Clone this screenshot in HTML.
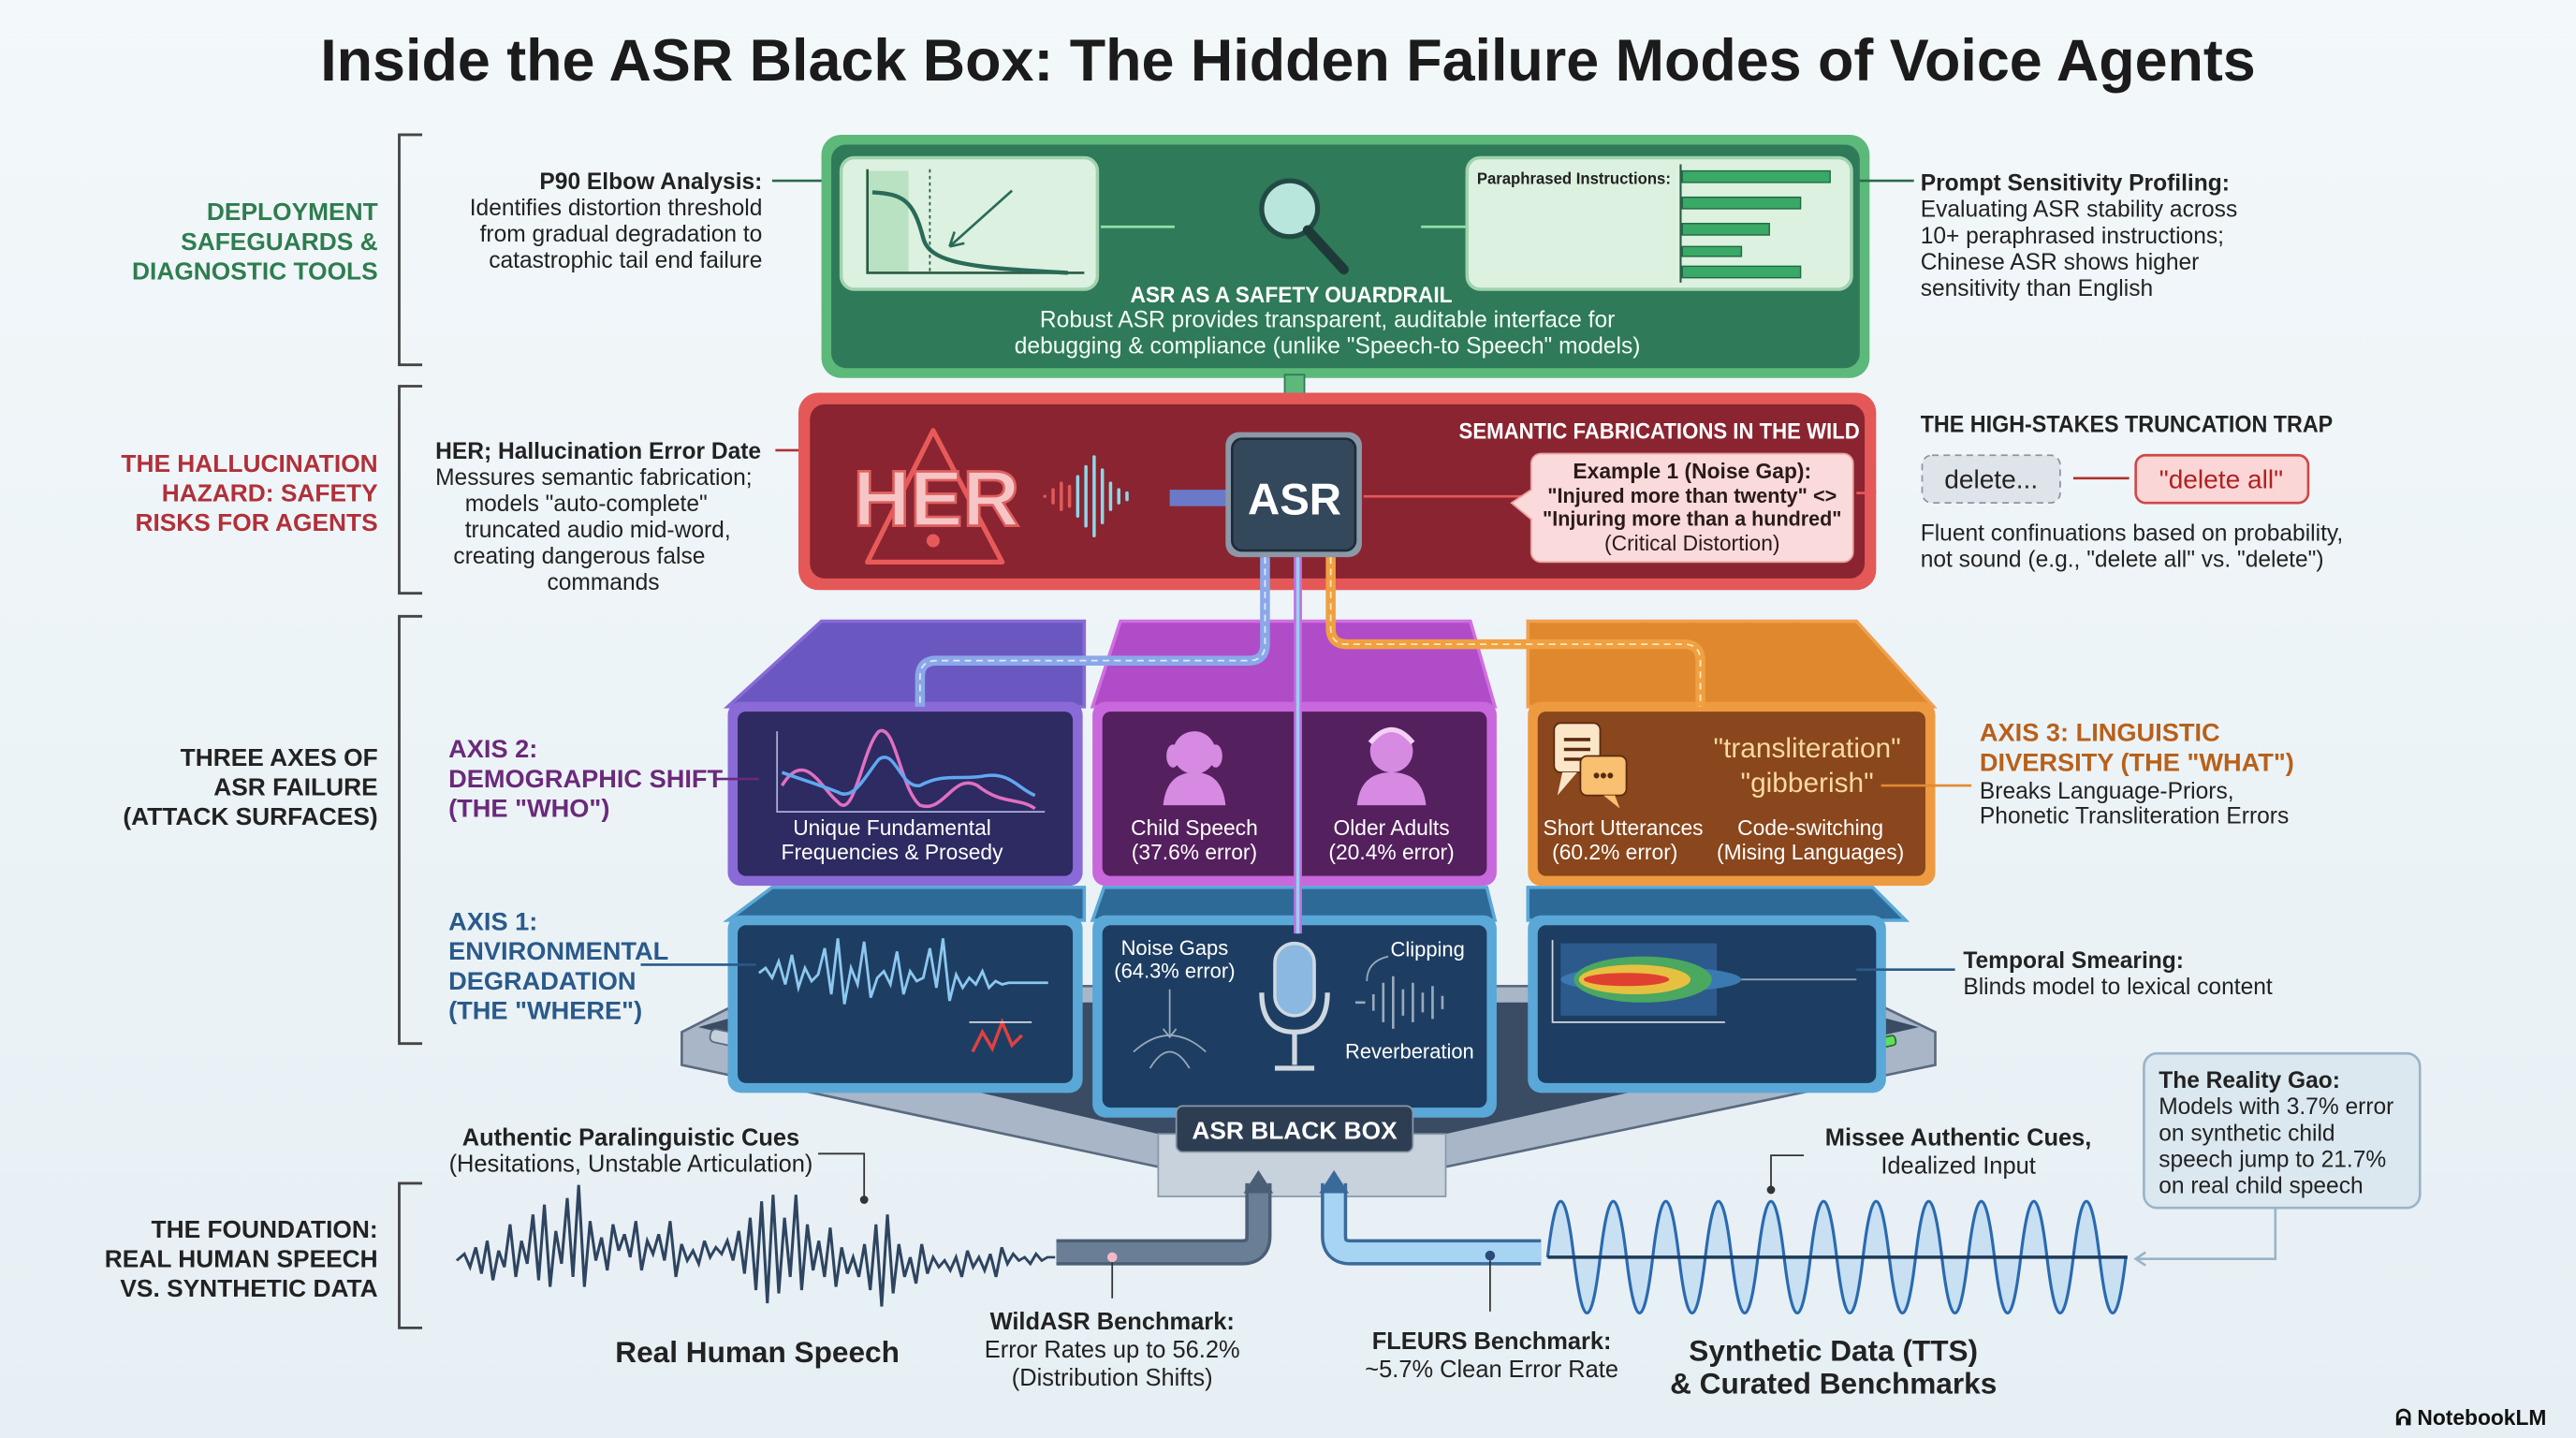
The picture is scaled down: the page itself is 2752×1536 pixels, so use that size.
<!DOCTYPE html>
<html><head><meta charset="utf-8"><style>
html,body{margin:0;padding:0;background:#eef4f7}
svg{display:block}
text{font-family:"Liberation Sans",sans-serif}
</style></head><body>
<svg width="2752" height="1536" viewBox="0 0 1568 875" preserveAspectRatio="none" xmlns="http://www.w3.org/2000/svg">
<defs>
<linearGradient id="bg" x1="0" y1="0" x2="0" y2="1"><stop offset="0" stop-color="#f3f8fa"/><stop offset="1" stop-color="#e6eff4"/></linearGradient>
</defs>
<rect width="1568" height="875" fill="url(#bg)"/>
<text x="784" y="49" text-anchor="middle" font-size="36" font-weight="bold" fill="#1b1b1b" textLength="1178" lengthAdjust="spacingAndGlyphs">Inside the ASR Black Box: The Hidden Failure Modes of Voice Agents</text>

<!-- left brackets -->
<g stroke="#444" stroke-width="1.6" fill="none">
<path d="M257 82 H243 V222 H257"/>
<path d="M257 235 H243 V361 H257"/>
<path d="M257 375 H243 V635 H257"/>
<path d="M257 720 H243 V808 H257"/>
</g>
<g font-weight="bold" font-size="15" text-anchor="end">
<text x="230" y="134" fill="#2e7d4f">DEPLOYMENT</text><text x="230" y="152" fill="#2e7d4f">SAFEGUARDS &amp;</text><text x="230" y="170" fill="#2e7d4f">DIAGNOSTIC TOOLS</text>
<text x="230" y="287" fill="#b0303a">THE HALLUCINATION</text><text x="230" y="305" fill="#b0303a">HAZARD: SAFETY</text><text x="230" y="323" fill="#b0303a">RISKS FOR AGENTS</text>
<text x="230" y="466" fill="#222">THREE AXES OF</text><text x="230" y="484" fill="#222">ASR FAILURE</text><text x="230" y="502" fill="#222">(ATTACK SURFACES)</text>
<text x="230" y="753" fill="#222">THE FOUNDATION:</text><text x="230" y="771" fill="#222">REAL HUMAN SPEECH</text><text x="230" y="789" fill="#222">VS. SYNTHETIC DATA</text>
</g>

<!-- left annotations -->
<g font-size="14" fill="#222" text-anchor="end">
<text x="464" y="115" font-weight="bold">P90 Elbow Analysis:</text>
<text x="464" y="131">Identifies distortion threshold</text>
<text x="464" y="147">from gradual degradation to</text>
<text x="464" y="163">catastrophic tail end failure</text>
</g>
<line x1="470" y1="110" x2="512" y2="110" stroke="#2b6a4a" stroke-width="1.5"/>
<g font-size="14" fill="#222">
<text x="265" y="279" font-weight="bold">HER; Hallucination Error Date</text>
<text x="265" y="295">Messures semantic fabrication;</text>
<text x="283" y="311">models "auto-complete"</text>
<text x="283" y="327">truncated audio mid-word,</text>
<text x="276" y="343">creating dangerous false</text>
<text x="333" y="359">commands</text>
</g>
<line x1="472" y1="274" x2="515" y2="274" stroke="#b0303a" stroke-width="1.5"/>

<!-- GREEN box -->
<rect x="500" y="82" width="638" height="148" rx="12" fill="#5cb97a"/>
<rect x="506" y="88" width="626" height="136" rx="9" fill="#2f7a58"/>
<rect x="512" y="96" width="156" height="80" rx="8" fill="#dcf1df" stroke="#9fd3ad" stroke-width="2"/>
<rect x="528" y="104" width="25" height="62" fill="#b9e2c2"/>
<path d="M528 103 V166 H660" stroke="#2a5a44" stroke-width="1.5" fill="none"/>
<path d="M531 117 C550 118 556 122 562 145 C566 160 590 163 650 166" stroke="#2a6a58" stroke-width="2.5" fill="none"/>
<line x1="566" y1="103" x2="566" y2="166" stroke="#2a5a44" stroke-dasharray="2 2"/>
<path d="M616 116 L578 150 M578 150 l3 -9 M578 150 l9 -2" stroke="#2a6a58" stroke-width="1.5" fill="none"/>
<line x1="670" y1="138" x2="715" y2="138" stroke="#8fe0a6" stroke-width="1.5"/>
<line x1="865" y1="138" x2="893" y2="138" stroke="#8fe0a6" stroke-width="1.5"/>
<circle cx="785" cy="127" r="17" fill="#b8e6dc" stroke="#224a44" stroke-width="3"/>
<line x1="796" y1="140" x2="818" y2="164" stroke="#1e3a38" stroke-width="6" stroke-linecap="round"/>
<rect x="893" y="96" width="234" height="80" rx="8" fill="#dcf1df" stroke="#9fd3ad" stroke-width="2"/>
<text x="899" y="112" font-size="10" font-weight="bold" fill="#222" textLength="118" lengthAdjust="spacingAndGlyphs">Paraphrased Instructions:</text>
<line x1="1023" y1="100" x2="1023" y2="172" stroke="#2a5a44" stroke-width="1.2"/>
<g fill="#3aa866" stroke="#1f6a44" stroke-width="0.8">
<rect x="1024" y="104" width="90" height="7"/><rect x="1024" y="120" width="72" height="7"/><rect x="1024" y="136" width="53" height="7"/><rect x="1024" y="150" width="36" height="6"/><rect x="1024" y="162" width="72" height="7"/>
</g>
<text x="786" y="184" text-anchor="middle" font-size="13.5" font-weight="bold" fill="#fff" textLength="196" lengthAdjust="spacingAndGlyphs">ASR AS A SAFETY OUARDRAIL</text>
<text x="808" y="199" text-anchor="middle" font-size="14" fill="#f2fff6">Robust ASR provides transparent, auditable interface for</text>
<text x="808" y="215" text-anchor="middle" font-size="14" fill="#f2fff6">debugging &amp; compliance (unlike "Speech-to Speech" models)</text>
<rect x="782" y="228" width="12" height="40" fill="#5cb97a" stroke="#2f7a58"/>

<!-- Right top annotation -->
<line x1="1132" y1="110" x2="1165" y2="110" stroke="#2b6a4a" stroke-width="1.5"/>
<g font-size="14" fill="#222">
<text x="1169" y="116" font-weight="bold">Prompt Sensitivity Profiling:</text>
<text x="1169" y="132">Evaluating ASR stability across</text>
<text x="1169" y="148">10+ peraphrased instructions;</text>
<text x="1169" y="164">Chinese ASR shows higher</text>
<text x="1169" y="180">sensitivity than English</text>
</g>

<!-- RED box -->
<rect x="486" y="239" width="656" height="120" rx="12" fill="#e45858"/>
<rect x="493" y="246" width="642" height="106" rx="9" fill="#8a2430"/>
<path d="M568 262 L528 342 H610 Z" fill="none" stroke="#e85a5a" stroke-width="3" stroke-linejoin="round"/>
<circle cx="568" cy="329" r="4" fill="#e85a5a"/>
<text x="570" y="320" text-anchor="middle" font-size="48" font-weight="bold" fill="#f6c6c6" stroke="#e06060" stroke-width="1.5">HER</text>
<g stroke-width="2" stroke-linecap="round">
<path d="M636 302v0 M641 298v8 M646 294v16 M651 296v12" stroke="#e05a5a"/>
<path d="M656 290v24 M661 284v36 M666 278v48 M671 286v32 M676 294v16 M681 298v8 M686 300v4" stroke="#8fd6e8"/>
</g>
<rect x="712" y="298" width="38" height="10" fill="#6a7ac8"/>
<rect x="746" y="263" width="83" height="76" rx="8" fill="#8b98a8"/>
<rect x="750" y="267" width="75" height="68" rx="6" fill="#34485c" stroke="#1e2c38" stroke-width="1.5"/>
<text x="788" y="313" text-anchor="middle" font-size="27" font-weight="bold" fill="#fff">ASR</text>
<line x1="830" y1="302" x2="930" y2="302" stroke="#e45858" stroke-width="1.5"/>
<text x="1010" y="267" text-anchor="middle" font-size="13.5" font-weight="bold" fill="#fff" textLength="244" lengthAdjust="spacingAndGlyphs">SEMANTIC FABRICATIONS IN THE WILD</text>
<path d="M938 276 H1122 a6 6 0 0 1 6 6 V336 a6 6 0 0 1 -6 6 H938 a6 6 0 0 1 -6 -6 V316 L920 306 L932 298 V282 a6 6 0 0 1 6 -6Z" fill="#fadada" stroke="#e8a0a0"/>
<text x="1030" y="291" text-anchor="middle" font-size="13" font-weight="bold" fill="#2a1a1a">Example 1 (Noise Gap):</text>
<text x="1030" y="306" text-anchor="middle" font-size="12.5" font-weight="bold" fill="#2a1a1a" textLength="176" lengthAdjust="spacingAndGlyphs">"Injured more than twenty" &lt;&gt;</text>
<text x="1030" y="320" text-anchor="middle" font-size="12.5" font-weight="bold" fill="#2a1a1a" textLength="182" lengthAdjust="spacingAndGlyphs">"Injuring more than a hundred"</text>
<text x="1030" y="335" text-anchor="middle" font-size="13" fill="#2a1a1a">(Critical Distortion)</text>
<line x1="1130" y1="300" x2="1142" y2="300" stroke="#e45858" stroke-width="1.5"/>

<!-- truncation trap -->
<text x="1169" y="263" font-size="14" font-weight="bold" fill="#222" textLength="251" lengthAdjust="spacingAndGlyphs">THE HIGH-STAKES TRUNCATION TRAP</text>
<rect x="1170" y="277" width="84" height="29" rx="6" fill="#dfe4ea" stroke="#8a96a4" stroke-dasharray="4 3"/>
<text x="1212" y="297" text-anchor="middle" font-size="16" fill="#222">delete...</text>
<line x1="1262" y1="291" x2="1296" y2="291" stroke="#b03030" stroke-width="1.5"/>
<rect x="1300" y="277" width="105" height="29" rx="6" fill="#fbd6d6" stroke="#d04848" stroke-width="1.5"/>
<text x="1352" y="297" text-anchor="middle" font-size="16" fill="#b02020">"delete all"</text>
<text x="1169" y="329" font-size="14" fill="#222">Fluent confinuations based on probability,</text>
<text x="1169" y="345" font-size="14" fill="#222">not sound (e.g., "delete all" vs. "delete")</text>

<!-- BASE PLATFORM -->
<path d="M415 628 L470 600 H1120 L1178 628 L1178 648 L880 710 H705 L415 648 Z" fill="#a9b6c8" stroke="#5a6a80" stroke-width="1.5"/>
<path d="M425 625 L478 610 H1112 L1168 625 L880 690 H705 Z" fill="#3a4c64"/>
<rect x="705" y="690" width="175" height="38" fill="#c8d2dc" stroke="#8a98a8"/>
<rect x="432" y="630" width="42" height="8" rx="3" fill="#c6d0dc" stroke="#5a6a80" transform="rotate(12 453 634)"/>
<rect x="1132" y="632" width="22" height="6" rx="2" fill="#5ee05e" stroke="#2a6a2a" transform="rotate(-12 1143 635)"/>

<!-- Upper lids -->
<path d="M443 430 L500 378 H660 L660 430 Z" fill="#6a58c0" stroke="#8a6ad6" stroke-width="2"/>
<path d="M665 430 L682 378 H895 L910 430 Z" fill="#b04cc8" stroke="#d070e0" stroke-width="2"/>
<path d="M930 430 L930 378 H1130 L1177 430 Z" fill="#e0882e" stroke="#f0a050" stroke-width="2"/>
<path d="M443 560 L470 540 H660 L660 560 Z" fill="#2e6a98" stroke="#5aa8d8" stroke-width="2"/>
<path d="M665 560 L672 540 H905 L910 560 Z" fill="#2e6a98" stroke="#5aa8d8" stroke-width="2"/>
<path d="M930 560 L930 540 H1140 L1160 560 Z" fill="#2e6a98" stroke="#5aa8d8" stroke-width="2"/>

<!-- purple box -->
<rect x="443" y="427" width="216" height="112" rx="8" fill="#8a6ad6"/>
<rect x="449" y="433" width="204" height="100" rx="5" fill="#2e2a62"/>
<path d="M473 445 V494 H636" stroke="#aab0d8" fill="none"/>
<path d="M476 478 C490 455 500 480 510 488 C520 500 525 455 535 445 C545 440 548 480 560 490 C575 495 580 470 595 478 C610 490 620 485 630 492" stroke="#e070c0" stroke-width="2" fill="none"/>
<path d="M476 470 C490 475 500 478 510 482 C520 488 528 470 535 462 C545 455 548 480 560 478 C575 470 585 475 600 472 C615 470 620 480 630 484" stroke="#60a8f0" stroke-width="2" fill="none"/>
<text x="543" y="508" text-anchor="middle" font-size="13" fill="#fff">Unique Fundamental</text>
<text x="543" y="523" text-anchor="middle" font-size="13" fill="#fff">Frequencies &amp; Prosedy</text>

<!-- magenta box -->
<rect x="665" y="427" width="246" height="112" rx="8" fill="#c868dc"/>
<rect x="671" y="433" width="234" height="100" rx="5" fill="#55205e"/>
<g fill="#d68ae2">
<circle cx="727" cy="458" r="13"/><ellipse cx="714" cy="460" rx="4" ry="7"/><ellipse cx="740" cy="460" rx="4" ry="7"/>
<path d="M708 490 Q710 470 727 470 Q744 470 746 490Z"/>
<circle cx="847" cy="457" r="13"/><path d="M826 490 Q828 470 847 470 Q866 470 868 490Z"/>
</g>
<path d="M834 452 Q847 436 860 452" stroke="#f3d0f6" stroke-width="3" fill="none"/>
<text x="727" y="508" text-anchor="middle" font-size="13" fill="#fff">Child Speech</text>
<text x="727" y="523" text-anchor="middle" font-size="13" fill="#fff">(37.6% error)</text>
<text x="847" y="508" text-anchor="middle" font-size="13" fill="#fff">Older Adults</text>
<text x="847" y="523" text-anchor="middle" font-size="13" fill="#fff">(20.4% error)</text>

<!-- orange box -->
<rect x="930" y="427" width="248" height="112" rx="8" fill="#ee9a40"/>
<rect x="936" y="433" width="236" height="100" rx="5" fill="#8a461c"/>
<rect x="946" y="440" width="28" height="30" rx="4" fill="#fbe6c8" stroke="#5a2a10"/>
<path d="M951 470 L948 484 L960 470Z" fill="#fbe6c8"/>
<g stroke="#5a2a10" stroke-width="2"><line x1="952" y1="450" x2="968" y2="450"/><line x1="952" y1="456" x2="968" y2="456"/><line x1="952" y1="462" x2="964" y2="462"/></g>
<rect x="962" y="460" width="28" height="24" rx="4" fill="#f8c070" stroke="#5a2a10"/>
<path d="M983 484 L986 492 L976 484Z" fill="#f8c070"/>
<text x="976" y="476" text-anchor="middle" font-size="12" font-weight="bold" fill="#5a2a10">•••</text>
<text x="1100" y="461" text-anchor="middle" font-size="17" fill="#f8d9a0">"transliteration"</text>
<text x="1100" y="482" text-anchor="middle" font-size="17" fill="#f8d9a0">"gibberish"</text>
<line x1="1145" y1="478" x2="1200" y2="478" stroke="#e08a30" stroke-width="1.5"/>
<text x="988" y="508" text-anchor="middle" font-size="13" fill="#fff">Short Utterances</text>
<text x="983" y="523" text-anchor="middle" font-size="13" fill="#fff">(60.2% error)</text>
<text x="1102" y="508" text-anchor="middle" font-size="13" fill="#fff">Code-switching</text>
<text x="1102" y="523" text-anchor="middle" font-size="13" fill="#fff">(Mising Languages)</text>

<!-- lower blue boxes -->
<rect x="443" y="557" width="216" height="108" rx="8" fill="#5aa8d8"/>
<rect x="449" y="563" width="204" height="96" rx="5" fill="#1d3e62"/>
<path d="M462 592 l4 -3 l4 6 l4 -10 l4 14 l4 -18 l4 20 l4 -12 l4 8 l4 -4 l4 -16 l4 28 l4 -34 l4 40 l4 -22 l4 10 l4 -26 l4 34 l4 -12 l4 -4 l4 8 l4 -20 l4 26 l4 -14 l4 6 l4 -2 l4 -18 l4 24 l4 -30 l4 38 l4 -16 l4 8 l4 -6 l4 4 l4 -8 l4 10 l4 -4 l4 2 l4 -1 l24 0" stroke="#8cc8f0" stroke-width="1.6" fill="none"/>
<path d="M592 640 l6 -12 l6 10 l6 -16 l6 14 l6 -6" stroke="#e04040" stroke-width="2" fill="none"/>
<line x1="590" y1="622" x2="628" y2="622" stroke="#cfd8e0"/>

<rect x="665" y="557" width="246" height="123" rx="8" fill="#5aa8d8"/>
<rect x="671" y="563" width="234" height="111" rx="5" fill="#1d3e62"/>
<text x="715" y="581" text-anchor="middle" font-size="12.5" fill="#fff">Noise Gaps</text>
<text x="715" y="595" text-anchor="middle" font-size="12.5" fill="#fff">(64.3% error)</text>
<path d="M712 602 V630 M708 626 l4 5 l4 -5" stroke="#9ab" fill="none"/>
<path d="M700 650 Q712 630 724 650 M690 640 Q712 620 734 640" stroke="#9ab" fill="none"/>
<rect x="776" y="574" width="24" height="44" rx="12" fill="#8ab8e0" stroke="#cfd8e0" stroke-width="2"/>
<path d="M768 604 Q768 628 788 628 Q808 628 808 604 M788 628 V648 M776 650 H800" stroke="#cfd8e0" stroke-width="3" fill="none"/>
<text x="869" y="582" text-anchor="middle" font-size="12.5" fill="#fff">Clipping</text>
<path d="M845 582 Q832 585 832 597" stroke="#9ab" fill="none"/>
<path d="M825 610 h6 M836 605 v10 M842 598 v24 M848 594 v32 M854 602 v16 M860 598 v24 M866 604 v12 M872 600 v20 M878 606 v8" stroke="#9ab" stroke-width="1.5"/>
<text x="858" y="644" text-anchor="middle" font-size="12.5" fill="#fff">Reverberation</text>

<rect x="930" y="557" width="218" height="108" rx="8" fill="#5aa8d8"/>
<rect x="936" y="563" width="206" height="96" rx="5" fill="#1d3e62"/>
<path d="M945 572 V622 H1050" stroke="#cfd8e0" fill="none"/>
<rect x="950" y="574" width="95" height="44" fill="#2c5a8c"/>
<ellipse cx="1005" cy="596" rx="55" ry="8" fill="#3a7ab0"/>
<ellipse cx="1000" cy="596" rx="42" ry="14" fill="#4aa860"/>
<ellipse cx="995" cy="596" rx="34" ry="9" fill="#e6c040"/>
<ellipse cx="990" cy="596" rx="26" ry="4" fill="#e04030"/>
<path d="M1060 596 H1130" stroke="#9ab"/>

<rect x="716" y="673" width="144" height="28" rx="4" fill="#2e3e52" stroke="#8a98a8"/>
<text x="788" y="693" text-anchor="middle" font-size="15" font-weight="bold" fill="#fff">ASR BLACK BOX</text>

<!-- cables -->
<path d="M770 339 V392 Q770 402 760 402 H570 Q560 402 560 412 V430" stroke="#8aa8e8" stroke-width="6" fill="none"/>
<path d="M770 339 V392 Q770 402 760 402 H570 Q560 402 560 412 V430" stroke="#dfe8ff" stroke-width="1" stroke-dasharray="4 3" fill="none"/>
<line x1="790" y1="339" x2="790" y2="568" stroke="#c070e0" stroke-width="5"/>
<line x1="790" y1="339" x2="790" y2="568" stroke="#9ad0f0" stroke-width="2"/>
<path d="M810 339 V382 Q810 392 820 392 H1025 Q1035 392 1035 402 V430" stroke="#f0a040" stroke-width="6" fill="none"/>
<path d="M810 339 V382 Q810 392 820 392 H1025 Q1035 392 1035 402 V430" stroke="#ffe8c0" stroke-width="1" stroke-dasharray="4 3" fill="none"/>

<!-- axis labels -->
<g font-size="15.5" font-weight="bold" fill="#6a2a7a">
<text x="273" y="461">AXIS 2:</text><text x="273" y="479">DEMOGRAPHIC SHIFT</text><text x="273" y="497">(THE "WHO")</text>
</g>
<line x1="436" y1="474" x2="462" y2="474" stroke="#6a2a7a" stroke-width="1.5"/>
<g font-size="15.5" font-weight="bold" fill="#2a5a8a">
<text x="273" y="566">AXIS 1:</text><text x="273" y="584">ENVIRONMENTAL</text><text x="273" y="602">DEGRADATION</text><text x="273" y="620">(THE "WHERE")</text>
</g>
<line x1="390" y1="587" x2="460" y2="587" stroke="#2a5a8a" stroke-width="1.5"/>
<g font-size="15.5" font-weight="bold" fill="#b8601a">
<text x="1205" y="451">AXIS 3: LINGUISTIC</text><text x="1205" y="469">DIVERSITY (THE "WHAT")</text>
</g>
<text x="1205" y="486" font-size="14" fill="#222">Breaks Language-Priors,</text>
<text x="1205" y="501" font-size="14" fill="#222">Phonetic Transliteration Errors</text>
<text x="1195" y="589" font-size="14" font-weight="bold" fill="#222">Temporal Smearing:</text>
<text x="1195" y="605" font-size="14" fill="#222">Blinds model to lexical content</text>
<line x1="1130" y1="590" x2="1190" y2="590" stroke="#2a5a8a" stroke-width="1.5"/>

<!-- Reality gap -->
<rect x="1305" y="641" width="168" height="94" rx="8" fill="#dbe8f0" stroke="#9ab4c8" stroke-width="1.5"/>
<g font-size="14" fill="#222">
<text x="1314" y="662" font-weight="bold">The Reality Gao:</text>
<text x="1314" y="678">Models with 3.7% error</text>
<text x="1314" y="694">on synthetic child</text>
<text x="1314" y="710">speech jump to 21.7%</text>
<text x="1314" y="726">on real child speech</text>
</g>
<path d="M1385 735 V766 H1300 M1306 762 l-6 4 l6 4" stroke="#9ab4c8" stroke-width="1.5" fill="none"/>

<!-- foundation -->
<text x="384" y="697" text-anchor="middle" font-size="14.5" font-weight="bold" fill="#222">Authentic Paralinguistic Cues</text>
<text x="384" y="713" text-anchor="middle" font-size="14.5" fill="#222">(Hesitations, Unstable Articulation)</text>
<path d="M498 702 H526 V728" stroke="#333" fill="none"/><circle cx="526" cy="730" r="2.5" fill="#333"/>
<g transform="translate(278 0) scale(1.16 1) translate(-278 0)">
<path d="M278 767 l4 -4 l3 8 l3 -12 l3 16 l3 -20 l3 24 l3 -18 l3 10 l3 -26 l3 32 l3 -22 l3 14 l3 -30 l3 40 l3 -46 l3 50 l3 -34 l3 20 l3 -40 l3 48 l3 -56 l3 62 l3 -40 l3 24 l3 -14 l3 20 l3 -28 l3 16 l3 -10 l3 14 l3 -22 l3 30 l3 -18 l3 8 l3 -12 l3 16 l3 -24 l3 34 l3 -20 l3 10 l3 -6 l3 8 l3 -14 l3 10 l3 -6 l3 4 l3 -8 l3 12 l3 -18 l3 26 l3 -34 l3 44 l3 -54 l3 62 l3 -66 l3 60 l3 -46 l3 36 l3 -50 l3 58 l3 -40 l3 28 l3 -18 l3 22 l3 -30 l3 36 l3 -24 l3 16 l3 -10 l3 12 l3 -20 l3 28 l3 -40 l3 50 l3 -56 l3 48 l3 -30 l3 20 l3 -12 l3 16 l3 -24 l3 18 l3 -10 l3 6 l3 -4 l3 6 l3 -8 l3 12 l3 -16 l3 10 l3 -6 l3 8 l3 -10 l3 14 l3 -18 l3 10 l3 -6 l3 4 l3 -2 l3 4 l3 -6 l3 4 l3 -2 l4 0" stroke="#2e4460" stroke-width="1.5" fill="none"/>
</g>
<text x="461" y="829" text-anchor="middle" font-size="18" font-weight="bold" fill="#222">Real Human Speech</text>

<!-- pipes -->
<path d="M643 762 H756 Q766 762 766 752 V720" stroke="#4a5e76" stroke-width="16" fill="none"/>
<path d="M643 762 H756 Q766 762 766 752 V720" stroke="#6a7e96" stroke-width="12" fill="none"/>
<path d="M757 726 L766 712 L775 726Z" fill="#4a5e76"/>
<path d="M938 762 H822 Q812 762 812 752 V720" stroke="#3a6a9a" stroke-width="16" fill="none"/>
<path d="M938 762 H822 Q812 762 812 752 V720" stroke="#a8d4f4" stroke-width="12" fill="none"/>
<path d="M803 726 L812 712 L821 726Z" fill="#3a6a9a"/>
<circle cx="677" cy="765" r="3" fill="#f4b8c8"/><line x1="677" y1="768" x2="677" y2="790" stroke="#333"/>
<circle cx="907" cy="764" r="3" fill="#2a4a7a"/><line x1="907" y1="767" x2="907" y2="798" stroke="#333"/>
<text x="677" y="809" text-anchor="middle" font-size="14.5" font-weight="bold" fill="#222">WildASR Benchmark:</text>
<text x="677" y="826" text-anchor="middle" font-size="14.5" fill="#222">Error Rates up to 56.2%</text>
<text x="677" y="843" text-anchor="middle" font-size="14.5" fill="#222">(Distribution Shifts)</text>
<text x="908" y="821" text-anchor="middle" font-size="14.5" font-weight="bold" fill="#222">FLEURS Benchmark:</text>
<text x="908" y="838" text-anchor="middle" font-size="14.5" fill="#222">~5.7% Clean Error Rate</text>

<!-- sine -->
<path d="M942 765 q8 -68 16 0 t16 0 t16 0 t16 0 t16 0 t16 0 t16 0 t16 0 t16 0 t16 0 t16 0 t16 0 t16 0 t16 0 t16 0 t16 0 t16 0 t16 0 t16 0 t16 0 t16 0 t16 0" fill="#a8d0f0" fill-opacity="0.5" stroke="#2a6ab0" stroke-width="1.8"/>
<line x1="942" y1="765" x2="1295" y2="765" stroke="#1e3a5a" stroke-width="2"/>
<text x="1192" y="697" text-anchor="middle" font-size="14.5" font-weight="bold" fill="#222">Missee Authentic Cues,</text>
<text x="1192" y="714" text-anchor="middle" font-size="14.5" fill="#222">Idealized Input</text>
<path d="M1098 703 H1078 V722" stroke="#333" fill="none"/><circle cx="1078" cy="724" r="2.5" fill="#333"/>
<text x="1116" y="828" text-anchor="middle" font-size="18" font-weight="bold" fill="#222">Synthetic Data (TTS)</text>
<text x="1116" y="848" text-anchor="middle" font-size="18" font-weight="bold" fill="#222">&amp; Curated Benchmarks</text>

<text x="1550" y="867" text-anchor="end" font-size="13" font-weight="bold" fill="#111">ᕱ NotebookLM</text>
</svg>
</body></html>
